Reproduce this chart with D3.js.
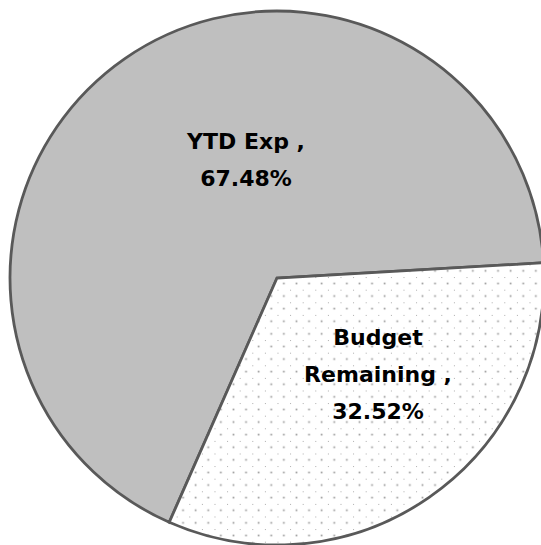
<!DOCTYPE html>
<html>
<head>
<meta charset="utf-8">
<script src="https://cdn.jsdelivr.net/npm/d3@7"></script>
<style>
  html, body { margin: 0; padding: 0; background: #fff; }
  svg { display: block; }
</style>
</head>
<body>
<svg id="chart" width="541" height="545"></svg>
<script>
// pie data
var categories = ["YTD Exp", "Budget Remaining"];
var values = [67.48, 32.52];

var w = 541, h = 545;
var cx = 277, cy = 278, radius = 267;
// Excel rotates the first slice; here it starts at about 203.8 deg
var startDeg = 203.8;

// where the label blocks sit (center x, first baseline), relative to pie center
var labelAt = [
  { dx: -31, dy: -129 },
  { dx: 101, dy: 67 }
];
var lineGap = 36.8;

var svg = d3.select('#chart');

var defs = svg.append('defs');
var pat = defs.append('pattern')
  .attr('id', 'dots')
  .attr('patternUnits', 'userSpaceOnUse')
  .attr('x', 0.5).attr('y', -0.9)
  .attr('width', 12.6).attr('height', 12.6);
pat.append('rect').attr('width', 12.6).attr('height', 12.6).attr('fill', '#fff');
pat.append('rect').attr('x', -0.8).attr('y', -0.8).attr('width', 1.7).attr('height', 1.7).attr('fill', '#9a9a9a');
pat.append('rect').attr('x', 5.5).attr('y', 5.5).attr('width', 1.7).attr('height', 1.7).attr('fill', '#9a9a9a');

var fills = ['#bfbfbf', 'url(#dots)'];

var start = startDeg * Math.PI / 180;
var pie = d3.pie()
  .sort(null)
  .value(function(d) { return d.value; })
  .startAngle(start)
  .endAngle(start + 2 * Math.PI);

var data = categories.map(function(c, i) { return { name: c, value: values[i] }; });
var total = d3.sum(values);
var arcs = pie(data);

var arc = d3.arc().innerRadius(0).outerRadius(radius);

var g = svg.append('g').attr('transform', 'translate(' + cx + ',' + cy + ')');

g.selectAll('path')
  .data(arcs)
  .enter().append('path')
    .attr('d', arc)
    .attr('fill', function(d, i) { return fills[i]; })
    .attr('stroke', '#595959')
    .attr('stroke-width', 2.8)
    .attr('stroke-linejoin', 'miter');

var fmt = d3.format('.2%');
var maxWidth = 155;

var labels = g.selectAll('text.lbl')
  .data(arcs)
  .enter().append('text')
    .attr('class', 'lbl')
    .attr('text-anchor', 'middle')
    .attr('font-family', 'DejaVu Sans, sans-serif')
    .attr('font-weight', 'bold')
    .attr('font-size', 22)
    .attr('fill', '#000');

labels.each(function(d, i) {
  var t = d3.select(this);
  var pos = labelAt[i];
  // greedy wrap of the category name + " ,"
  var words = (d.data.name + ' ,').split(' ');
  var lines = [];
  var cur = '';
  var probe = t.append('tspan');
  words.forEach(function(wd) {
    var test = cur ? cur + ' ' + wd : wd;
    probe.text(test);
    if (cur && wd !== ',' && probe.node().getComputedTextLength() > maxWidth) {
      lines.push(cur);
      cur = wd;
    } else {
      cur = test;
    }
  });
  probe.remove();
  lines.push(cur);
  lines.push(fmt(d.value / total));

  lines.forEach(function(line, k) {
    t.append('tspan')
      .attr('x', pos.dx)
      .attr('y', pos.dy + k * lineGap)
      .text(line);
  });
});
</script>
</body>
</html>
